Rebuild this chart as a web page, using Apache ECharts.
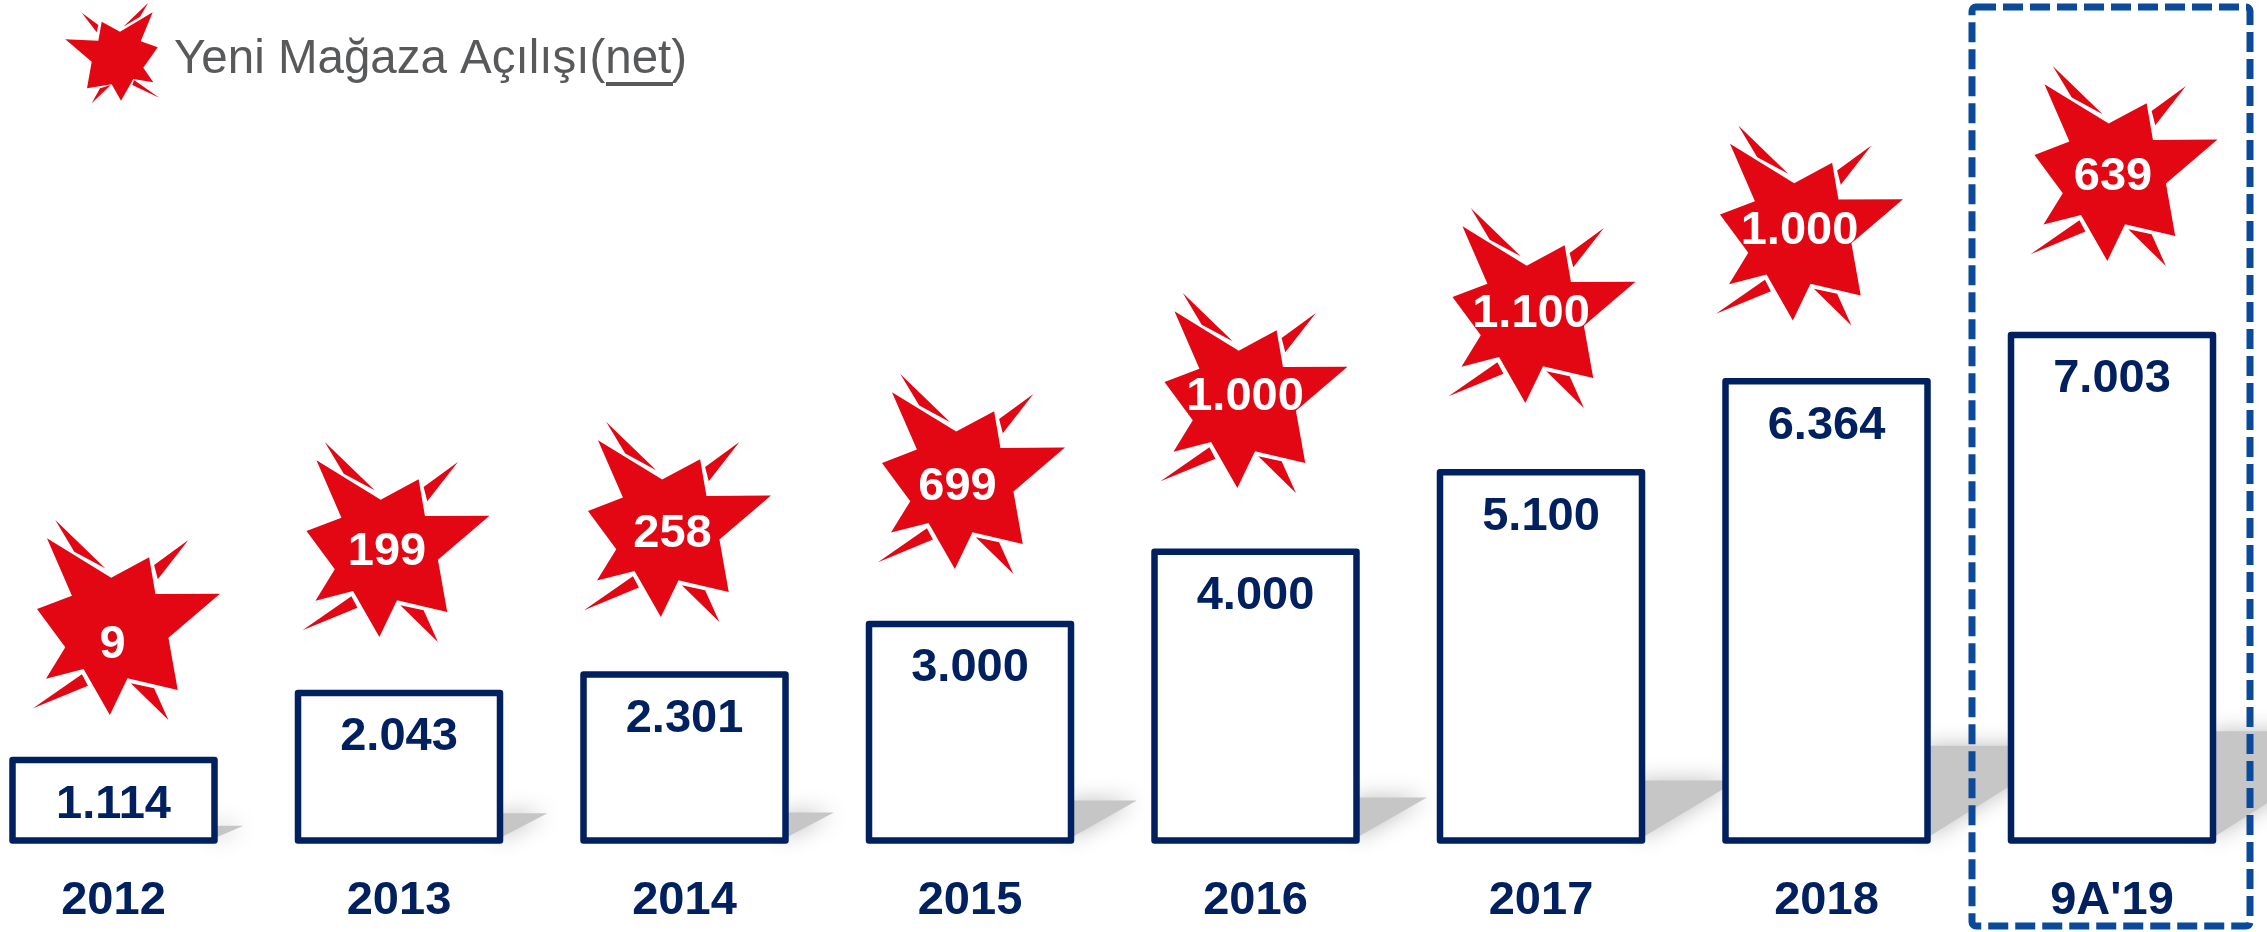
<!DOCTYPE html>
<html><head><meta charset="utf-8">
<style>html,body{margin:0;padding:0;background:#fff}#c{width:2267px;height:932px}</style>
<script src="https://cdn.jsdelivr.net/npm/echarts@6/dist/echarts.min.js"></script>
</head><body><div id="c"></div>
<script>
const categories = ['2012','2013','2014','2015','2016','2017','2018',"9A'19"];
const storeCounts = [1114,2043,2301,3000,4000,5100,6364,7003];
const newStores = [9,199,258,699,1000,1100,1000,639];
// vertical level of each burst, read on the same value axis as the bars
const burstLevels = [3055,4135,4413,5078,6200,7377,8520,9345];
const legendText = 'Yeni Mağaza Açılışı(net)';

// layout only
const burstDx = [13,-3,-7,1.5,-1.5,1,-17,12];
const labelDx = [-14,-9,-5,-14,-9,-11,-10,-11];
const labelDy = [25,10,12,13,4,6,6,11];
const shadowRatio = [.32,.26,.235,.235,.187,.193,.23,.238];

const NAVY='#002060', RED='#E30613', BLUE='#0B4A9A', GREY='#58595B', FONT='"Liberation Sans",Arial,sans-serif';
const BAR_W = 202;
const fmt = v => String(v).replace(/\B(?=(\d{3})+$)/g,'.');
const poly = p => 'M'+p.map(q=>q.join(' ')).join('L')+'Z';
const burstPath = 'path://' + [
  [[435,260],[628,378],[742,317],[761,427],[955,426],[800,558],[828,715],[677,680],[624,790],[545,652],[432,681],[490,587],[405,472],[510,432]],
  [[460,205],[610,350],[517,300]],
  [[860,265],[768,383],[757,340]],
  [[393,770],[540,668],[558,702]],
  [[800,805],[687,695],[757,710]]
].map(poly).join('');
const legendBurst = [
  [[65.3,39.3],[98.3,40.7],[101.7,21.7],[120,31.7],[152.7,12.3],[140.7,41.3],[157.7,47.3],[143.3,67.7],[153.3,82.3],[133.3,79],[121,100.7],[111.7,84.3],[87,88.3],[91.7,61.7]],
  [[148.3,2.7],[123.3,26.7],[140,16.7]],
  [[81.7,12.7],[98.3,25],[96.7,32.3]],
  [[91.7,103.3],[100,88.3],[110.7,85]],
  [[159.3,97.7],[132.3,85],[134,80]]
];
const pairs = storeCounts.map((v,i)=>[i,v]);

const chart = echarts.init(document.getElementById('c'),null,{renderer:'canvas'});
chart.setOption({
  animation:false,
  backgroundColor:'#fff',
  grid:{left:113.5,right:155,top:0,bottom:91.5,containLabel:false},
  xAxis:{type:'category',boundaryGap:false,data:categories,axisLine:{show:false},axisTick:{show:false},
    axisLabel:{color:NAVY,fontFamily:FONT,fontWeight:'bold',fontSize:47,margin:37,interval:0,hideOverlap:false,showMinLabel:true,showMaxLabel:true}},
  yAxis:{type:'value',min:0,max:11644,show:false,splitLine:{show:false}},
  series:[
    {type:'custom',z:1,clip:false,silent:true,data:pairs,
     renderItem(params,api){
       const i=api.value(0), top=api.coord([i,api.value(1)]), base=api.coord([i,0]);
       const xr=base[0]+BAR_W/2+3, h=(base[1]-top[1])*shadowRatio[i], by=base[1]+3;
       return {type:'polygon',shape:{points:[[xr-6,by-4],[xr-6,by-h+8],[xr+h*1.47-12,by-h+8]]},
         style:{fill:'#C6C6C6',shadowBlur:22,shadowColor:'#BEBEBE'}};
     },encode:{x:0,y:1}},
    {type:'bar',z:2,data:storeCounts,barWidth:BAR_W,clip:false,
     itemStyle:{color:'#fff',borderWidth:0},
     label:{show:true,position:'insideTop',distance:21,color:NAVY,fontFamily:FONT,fontWeight:'bold',fontSize:47,
       formatter:p=>fmt(p.value)}},
    {type:'custom',z:3,clip:false,silent:true,data:pairs,
     renderItem(params,api){
       const i=api.value(0), top=api.coord([i,api.value(1)]), base=api.coord([i,0]);
       return {type:'rect',shape:{x:base[0]-BAR_W/2,y:top[1],width:BAR_W,height:base[1]-top[1]},
         style:{fill:'none',stroke:NAVY,lineWidth:6.5,lineJoin:'round'}};
     },encode:{x:0,y:1}},
    {type:'scatter',z:4,clip:false,symbol:burstPath,symbolSize:[187,200],
     data:burstLevels.map((v,i)=>({value:v,symbolOffset:[burstDx[i],0],
       label:{show:true,position:'inside',offset:[labelDx[i],labelDy[i]],color:'#fff',fontFamily:FONT,fontWeight:'bold',fontSize:47,
         formatter:()=>fmt(newStores[i])}})),
     itemStyle:{color:RED,opacity:1}}
  ],
  graphic:[
    ...legendBurst.map(points=>({type:'polygon',z:20,shape:{points},style:{fill:RED}})),
    {type:'text',z:20,x:174,y:36,style:{text:legendText,fill:GREY,font:'47.5px '+FONT}},
    {type:'line',z:20,shape:{x1:606,y1:84,x2:673,y2:84},style:{stroke:GREY,lineWidth:4}},
    {type:'rect',z:20,shape:{x:1972,y:7,width:278,height:919,r:4},style:{fill:'none',stroke:BLUE,lineWidth:7,lineDash:[20,7]}}
  ]
});
</script></body></html>
